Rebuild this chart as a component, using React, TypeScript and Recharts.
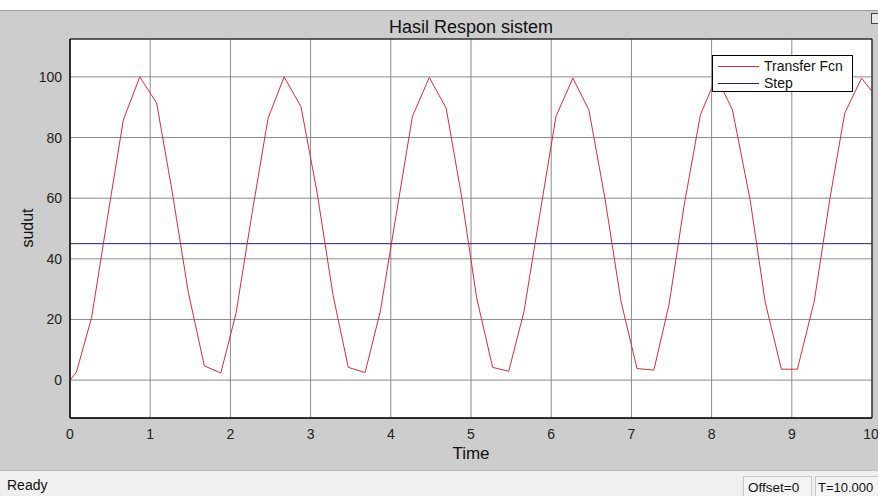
import { CartesianGrid, Line, LineChart, ReferenceArea, XAxis, YAxis } from 'recharts'

// Simulink scope samples
const TIME = [
  0, 0.08, 0.27, 0.47, 0.665, 0.87, 1.08, 1.27, 1.475, 1.675, 1.88, 2.07, 2.27, 2.47, 2.67, 2.88, 3.08, 3.28,
  3.47, 3.68, 3.87, 4.07, 4.27, 4.48, 4.69, 4.88, 5.07, 5.27, 5.47, 5.66, 5.86, 6.06, 6.27, 6.47, 6.67, 6.87,
  7.07, 7.28, 7.47, 7.66, 7.86, 8.06, 8.26, 8.48, 8.67, 8.87, 9.07, 9.28, 9.48, 9.66, 9.87, 10
]
const RESPONSE = [
  0, 2.6, 20.7, 54, 85.8, 100, 91.4, 62.8, 29, 4.7, 2.3, 22, 55, 86.4, 100, 90.2, 62, 28,
  4.2, 2.5, 22.8, 55, 87, 99.8, 89.7, 61, 27.2, 4.2, 2.9, 22.5, 55, 87, 99.6, 89.1, 60, 26,
  3.8, 3.3, 25, 58, 87.5, 100, 89.1, 59.5, 25.5, 3.6, 3.6, 26, 60.6, 88, 99.6, 95.2
]
const STEP_TIME = [0, 10]
const STEP_VALUE = [45, 45]
const X_TICKS = [0, 1, 2, 3, 4, 5, 6, 7, 8, 9, 10]
const Y_TICKS = [0, 20, 40, 60, 80, 100]
const SERIES_NAMES = ['Transfer Fcn', 'Step']
const SERIES_COLORS = ['#d22f3a', '#1c1f86']

const responseData = TIME.map((t, i) => ({ t, v: RESPONSE[i] }))
const stepData = STEP_TIME.map((t, i) => ({ t, v: STEP_VALUE[i] }))

const font = "'Liberation Sans', Arial, sans-serif"
const tick = { fill: '#222', fontSize: 14, fontFamily: font }

export default function App() {
  return (
    <div style={{ position: 'absolute', left: 0, top: 0, width: 878, height: 496, background: '#cdcdcd', overflow: 'hidden', fontFamily: font }}>
      <div style={{ position: 'absolute', left: 0, top: 0, width: 878, height: 10, background: '#fff', borderBottom: '1px solid #9c9c9c' }} />
      <div style={{ position: 'absolute', left: 871, top: 13, width: 8, height: 9, border: '1px solid #444', background: '#e8e8e8' }} />

      <div style={{ position: 'absolute', left: 0, top: 0 }}>
        <LineChart width={878} height={470} margin={{ top: 39, right: 6, bottom: 22, left: 20 }}>
          <CartesianGrid fill="#fff" stroke="#8a8a8a" strokeWidth={1} />
          <XAxis
            dataKey="t"
            type="number"
            domain={[0, 10]}
            ticks={X_TICKS}
            height={30}
            tick={tick}
            tickLine={false}
            tickMargin={5}
            axisLine={{ stroke: '#000' }}
            allowDataOverflow
          />
          <YAxis
            type="number"
            domain={[-12.5, 112.5]}
            ticks={Y_TICKS}
            width={50}
            tick={tick}
            tickLine={false}
            axisLine={{ stroke: '#000' }}
            allowDataOverflow
          />
          <ReferenceArea x1={0} x2={10} y1={-12.5} y2={112.5} fill="none" stroke="#000" strokeWidth={1} />
          <Line data={stepData} dataKey="v" name={SERIES_NAMES[1]} stroke={SERIES_COLORS[1]} strokeWidth={1} dot={false} isAnimationActive={false} />
          <Line data={responseData} dataKey="v" name={SERIES_NAMES[0]} stroke={SERIES_COLORS[0]} strokeWidth={1} dot={false} isAnimationActive={false} />
        </LineChart>
      </div>

      <div style={{ position: 'absolute', left: 271, width: 400, top: 17, textAlign: 'center', fontSize: 18, color: '#111' }}>Hasil Respon sistem</div>
      <div style={{ position: 'absolute', left: 271, width: 400, top: 444, textAlign: 'center', fontSize: 17, color: '#111' }}>Time</div>
      <div style={{ position: 'absolute', left: 28 - 50, top: 228 - 10, width: 100, height: 20, lineHeight: '20px', textAlign: 'center', fontSize: 16, color: '#111', transform: 'rotate(-90deg)' }}>sudut</div>

      <div style={{ position: 'absolute', left: 712, top: 55, width: 139, height: 35, border: '1px solid #000', background: '#fff', fontSize: 14, color: '#111' }}>
        {SERIES_NAMES.map((name, i) => (
          <div key={name} style={{ position: 'absolute', left: 0, top: 2 + i * 17, height: 17, width: 139 }}>
            <div style={{ position: 'absolute', left: 5, top: 8, width: 41, height: 1, background: SERIES_COLORS[i] }} />
            <div style={{ position: 'absolute', left: 51, top: 0, lineHeight: '17px' }}>{name}</div>
          </div>
        ))}
      </div>

      <div style={{ position: 'absolute', left: 0, top: 470, width: 878, height: 26, background: '#f0f0f0', borderTop: '1px solid #bdbdbd' }}>
        <div style={{ position: 'absolute', left: 7, top: 6, fontSize: 14, color: '#111' }}>Ready</div>
        <div style={{ position: 'absolute', left: 743, top: 5, width: 69, height: 21, border: '1px solid #c8c8c8', background: '#f4f4f4', fontSize: 13.5, color: '#111', lineHeight: '21px', paddingLeft: 4, boxSizing: 'border-box' }}>Offset=0</div>
        <div style={{ position: 'absolute', left: 815, top: 5, width: 64, height: 21, border: '1px solid #c8c8c8', background: '#f4f4f4', fontSize: 13, color: '#111', lineHeight: '21px', paddingLeft: 2, boxSizing: 'border-box', whiteSpace: 'nowrap' }}>T=10.000</div>
      </div>
    </div>
  )
}
